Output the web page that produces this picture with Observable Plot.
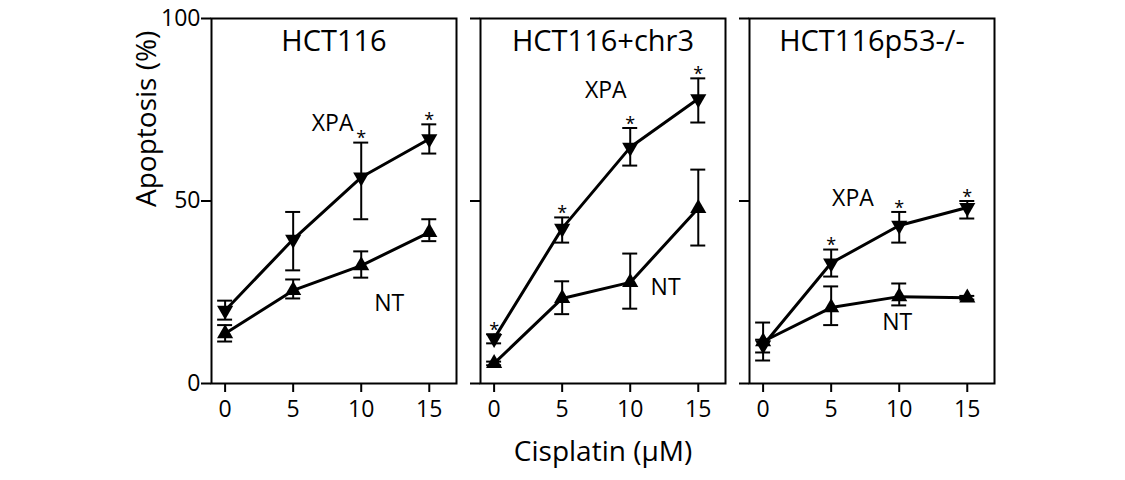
<!DOCTYPE html>
<html><head><meta charset="utf-8">
<script src="https://cdn.jsdelivr.net/npm/d3@7"></script>
<script src="https://cdn.jsdelivr.net/npm/@observablehq/plot@0.6"></script>
<style>body{margin:0;background:#fff;}</style>
</head><body><div id="chart"></div>
<script>
const panels = ["HCT116", "HCT116+chr3", "HCT116p53-/-"];
const doses = [0, 5, 10, 15];
const yTicks = [0, 50, 100];

const xpaMean = [[20, 39.5, 56.5, 67], [12.3, 42.5, 64.7, 78], [10.5, 33, 43.3, 48.2]];
const xpaHi   = [[22.7, 47, 66, 71], [13.5, 45.5, 70, 83.6], [12, 36.7, 47, 50]];
const xpaLo   = [[17.5, 31, 45, 63], [11, 38.6, 59.7, 71.5], [8.5, 29.3, 38.6, 45.2]];
const xpaSig  = [[false, false, true, true], [true, true, true, true], [false, true, true, true]];

const ntMean = [[13.7, 25.5, 32.3, 41.4], [5.5, 23.3, 27.7, 48], [11.5, 20.8, 23.8, 23.5]];
const ntHi   = [[16, 28.5, 36.2, 45], [6, 28, 35.6, 58.6], [16.7, 26.6, 27.4, 24]];
const ntLo   = [[11.5, 23.3, 29, 39], [5, 19, 20.5, 37.8], [6.3, 16, 21.4, 23]];

// series label anchors (dose, value) per panel
const xpaLabelAt = [[7.9, 71.2], [8.2, 80.3], [6.6, 50.7]];
const ntLabelAt  = [[12.06, 21.9], [12.6, 26.3], [9.85, 16.7]];

const rows = [];
panels.forEach((p, i) => doses.forEach((d, j) => {
  rows.push({panel: p, dose: d, series: "XPA", mean: xpaMean[i][j], lo: xpaLo[i][j], hi: xpaHi[i][j], sig: xpaSig[i][j]});
  rows.push({panel: p, dose: d, series: "NT", mean: ntMean[i][j], lo: ntLo[i][j], hi: ntHi[i][j], sig: false});
}));
const labels = [];
panels.forEach((p, i) => {
  labels.push({panel: p, text: "XPA", dose: xpaLabelAt[i][0], value: xpaLabelAt[i][1]});
  labels.push({panel: p, text: "NT", dose: ntLabelAt[i][0], value: ntLabelAt[i][1]});
});
const yTickRows = yTicks.map(v => ({panel: panels[0], v}));

const capW = 0.55;
const chart = Plot.plot({
  width: 1125,
  height: 480,
  marginLeft: 210,
  marginRight: 131,
  marginTop: 18,
  marginBottom: 97,
  style: {fontFamily: "'Open Sans', sans-serif", fontSize: "20px", color: "black", background: "white"},
  fx: {domain: panels, paddingInner: 0.0909, paddingOuter: 0, axis: null},
  x: {domain: [-1, 17], axis: null},
  y: {domain: [0, 100], axis: null},
  marks: [
    Plot.frame({stroke: "black", strokeWidth: 2}),
    Plot.axisY(yTicks, {tickSize: 10, strokeWidth: 2, facetAnchor: null, tickFormat: () => "", label: null}),
    Plot.axisX(doses, {tickSize: 9, strokeWidth: 2, tickFormat: () => "", label: null}),
    Plot.text(yTickRows, {fx: "panel", y: "v", text: d => String(d.v), frameAnchor: "left", textAnchor: "end", lineAnchor: "middle", dx: -11, fontSize: 23}),
    Plot.text(doses, {x: d => d, text: d => String(d), frameAnchor: "bottom", lineAnchor: "top", dy: 17, fontSize: 23}),
    Plot.ruleX(rows, {fx: "panel", x: "dose", y1: "lo", y2: "hi", stroke: "black", strokeWidth: 2}),
    Plot.ruleY(rows, {fx: "panel", y: "hi", x1: d => d.dose - capW, x2: d => d.dose + capW, stroke: "black", strokeWidth: 2}),
    Plot.ruleY(rows, {fx: "panel", y: "lo", x1: d => d.dose - capW, x2: d => d.dose + capW, stroke: "black", strokeWidth: 2}),
    Plot.line(rows, {fx: "panel", x: "dose", y: "mean", z: "series", stroke: "black", strokeWidth: 3}),
    Plot.dot(rows, {fx: "panel", x: "dose", y: "mean", symbol: "triangle", r: 6, fill: "black", stroke: "none",
      rotate: d => d.series === "XPA" ? 180 : 0}),
    Plot.text(rows.filter(d => d.sig), {fx: "panel", x: "dose", y: "hi", text: () => "*", dy: -4, fontSize: 18}),
    Plot.text(labels, {fx: "panel", x: "dose", y: "value", text: "text", fontSize: 23}),
    Plot.text(panels, {fx: d => d, text: d => d, frameAnchor: "top", lineAnchor: "middle", dy: 23, fontSize: 29}),
    Plot.text([panels[0]], {fx: d => d, text: () => "Apoptosis (%)", frameAnchor: "left", lineAnchor: "middle", rotate: -90, dx: -64, dy: 6, fontSize: 28}),
    Plot.text([panels[1]], {fx: d => d, text: () => "Cisplatin (μM)", frameAnchor: "bottom", lineAnchor: "middle", dy: 69, fontSize: 28})
  ]
});
document.getElementById("chart").appendChild(chart);
</script>
</body></html>
